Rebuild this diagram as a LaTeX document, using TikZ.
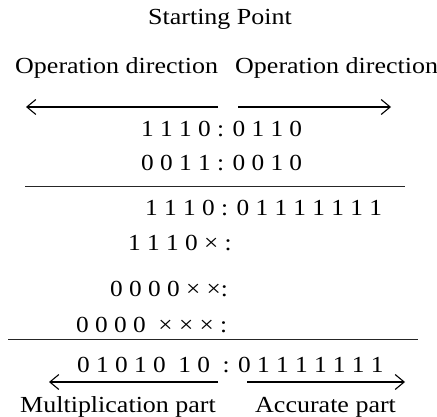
\documentclass[tikz,border=0pt]{standalone}
\usepackage{fontspec}
\setmainfont{Liberation Serif}
\usetikzlibrary{arrows.meta}
\begin{document}
\begin{tikzpicture}[x=1pt,y=1pt,
  txt/.style={inner sep=0pt,anchor=base west,font=\fontsize{23}{26}\selectfont,xscale=1.13},
  dig/.style={txt,xscale=1.1/1.13},
  arr/.style={line width=1.1pt,-{Straight Barb[length=9pt,width=15pt,line width=1.1pt]}},
  rule/.style={line width=0.9pt,draw=black!85}]
\useasboundingbox (0,0) rectangle (437,-417);
\node[txt,anchor=base] (sp) at (220,-25) {Starting Point};
\node[txt] (odl) at (15,-74) {Operation direction};
\node[txt] (odr) at (235,-74) {Operation direction};
\coordinate (la0) at (218,-107); \coordinate (la1) at (26,-107);
\coordinate (ra0) at (238,-107); \coordinate (ra1) at (391,-107);
\draw[arr] (la0) -- (la1);
\draw[arr] (ra0) -- (ra1);
\node[dig] (r1) at (141,-137) {1 1 1 0 : 0 1 1 0};
\node[dig] (r2) at (141,-171) {0 0 1 1 : 0 0 1 0};
\coordinate (l1a) at (25,-186); \coordinate (l1b) at (405,-186);
\draw[rule] (l1a) -- (l1b);
\node[dig] (r3) at (145,-216) {1 1 1 0 : 0 1 1 1 1 1 1 1};
\node[dig] (r4) at (128,-251) {1 1 1 0 × :};
\node[dig] (r5) at (110,-296) {0 0 0 0 × ×:};
\node[dig] (r6) at (76,-332) {0 0 0 0 \ × × × :};
\coordinate (l2a) at (8,-339); \coordinate (l2b) at (418,-339);
\draw[rule] (l2a) -- (l2b);
\node[dig] (r7) at (77,-372) {0 1 0 1 0 \ 1 0 \ : 0 1 1 1 1 1 1 1};
\coordinate (ba0) at (218,-382); \coordinate (ba1) at (49,-382);
\coordinate (bb0) at (247,-382); \coordinate (bb1) at (405,-382);
\draw[arr] (ba0) -- (ba1);
\draw[arr] (bb0) -- (bb1);
\node[txt] (ml) at (20,-412) {Multiplication part};
\node[txt] (ap) at (255,-412) {Accurate part};
\end{tikzpicture}
\end{document}
